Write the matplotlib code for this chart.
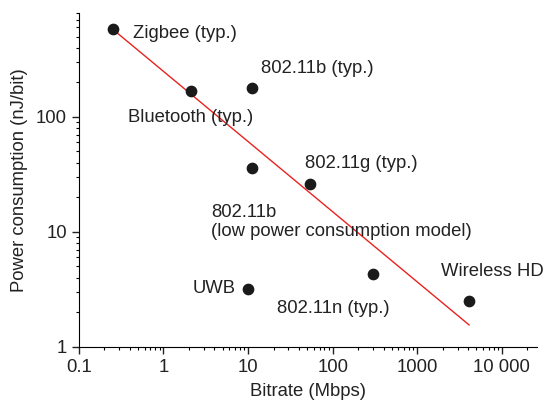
import numpy as np
import matplotlib.pyplot as plt
from matplotlib.ticker import FixedLocator, FuncFormatter, LogLocator, NullFormatter

plt.rcParams['font.family'] = ['Liberation Sans', 'DejaVu Sans']

# data
names = ['Zigbee (typ.)', 'Bluetooth (typ.)', '802.11b (typ.)',
         '802.11b\n(low power consumption model)', '802.11g (typ.)',
         'UWB', '802.11n (typ.)', 'Wireless HD']
bitrate = [0.25, 2.1, 11, 11, 54, 10, 300, 4100]
power = [580, 168, 179, 36, 26, 3.2, 4.3, 2.5]

# fitted trend line end points
fit_x = [0.25, 4100]
fit_y = [580, 1.55]

# label offsets in points (dx, dy) and alignment
offsets = [(15, -3, 'left'), (-45, -19, 'left'), (7, 14, 'left'),
           (-29, -39, 'left'), (-3.6, 15, 'left'), (-9, 0, 'right'),
           (-69, -24.5, 'left'), (-20, 21, 'left')]

fig = plt.figure(figsize=(5.44, 4.08), dpi=100)
ax = fig.add_axes([0.145, 0.15, 0.842, 0.818])

ax.plot(fit_x, fit_y, color='#e8231f', lw=1.0, zorder=2)
ax.scatter(bitrate, power, s=55, color='#1a1a1a', zorder=3)

for n, x, y, (dx, dy, ha) in zip(names, bitrate, power, offsets):
    ax.annotate(n, (x, y), xytext=(dx, dy), textcoords='offset points',
                ha=ha, va='center', fontsize=13.3, color='#222222',
                linespacing=1.12)

ax.set_xscale('log')
ax.set_yscale('log')
ax.set_xlim(0.1, 26000)
ax.set_ylim(1, 800)

ax.xaxis.set_major_locator(FixedLocator([0.1, 1, 10, 100, 1000, 10000]))
ax.xaxis.set_major_formatter(FuncFormatter(
    lambda v, p: {0.1: '0.1', 1: '1', 10: '10', 100: '100',
                  1000: '1000', 10000: '10 000'}.get(v, '')))
ax.xaxis.set_minor_locator(LogLocator(base=10, subs=np.arange(2, 10)))
ax.xaxis.set_minor_formatter(NullFormatter())
ax.yaxis.set_major_locator(FixedLocator([1, 10, 100]))
ax.yaxis.set_major_formatter(FuncFormatter(lambda v, p: '%g' % v))
ax.yaxis.set_minor_locator(LogLocator(base=10, subs=np.arange(2, 10)))
ax.yaxis.set_minor_formatter(NullFormatter())

for s in ['top', 'right']:
    ax.spines[s].set_visible(False)
ax.tick_params(which='major', length=5, width=1, labelsize=13.3,
               direction='out', colors='#222222')
ax.tick_params(axis='x', which='major', pad=4)
ax.tick_params(which='minor', length=2.5, width=0.8, direction='out')

ax.set_xlabel('Bitrate (Mbps)', fontsize=13.3, labelpad=5, color='#222222')
ax.set_ylabel('Power consumption (nJ/bit)', fontsize=13.3, labelpad=6,
              color='#222222')

fig.savefig('out.png', dpi=100)
